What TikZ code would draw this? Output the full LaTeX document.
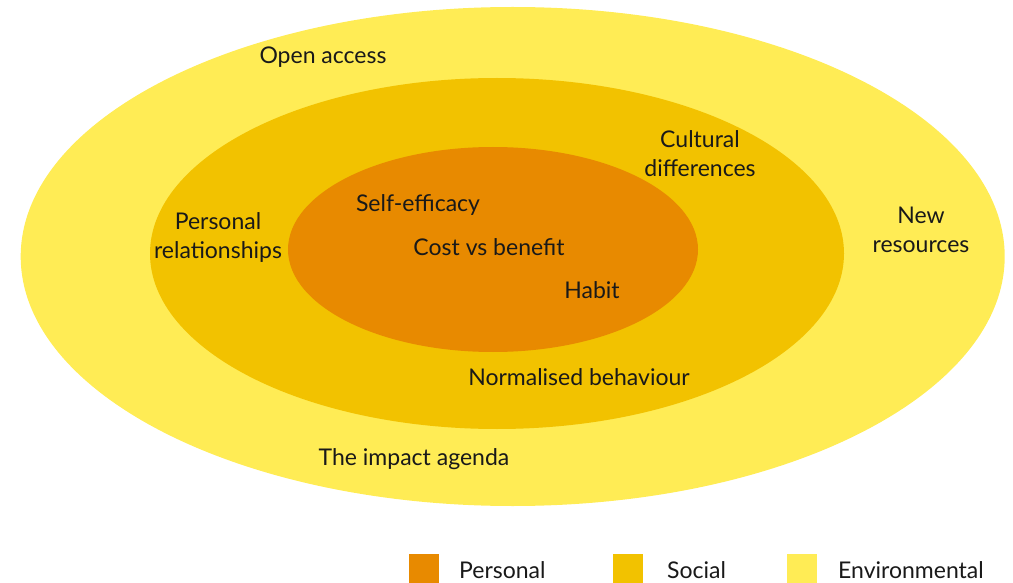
\documentclass[tikz,border=0pt]{standalone}
\usepackage{fontspec}
\setmainfont{Lato}
\definecolor{personal}{HTML}{E88A00}
\definecolor{social}{HTML}{F2C200}
\definecolor{environ}{HTML}{FFEC55}
\begin{document}
\begin{tikzpicture}[x=1pt,y=-1pt,
  lbl/.style={font=\fontsize{23}{29}\selectfont, text=black!90, align=center, inner sep=0pt},
  swatch/.style={minimum width=30pt, minimum height=29pt, inner sep=0pt, anchor=north west},
  legendtext/.style={font=\fontsize{23}{29}\selectfont, text=black!90, anchor=base west, inner sep=0pt, text depth=0pt}]
  \useasboundingbox (0,0) rectangle (1013,583);
  \clip (0,0) rectangle (1013,583);
  % nested ellipses: environmental, social, personal
  \fill[environ] (512.7,256.5) ellipse [x radius=492, y radius=249.5];
  \fill[social] (497,253.5) ellipse [x radius=347, y radius=175.5];
  \fill[personal] (493,249.5) ellipse [x radius=205, y radius=102.5];
  % labels
  \node[lbl] (open) at (323,57) {Open access};
  \node[lbl] (cult) at (700,154) {Cultural\\differences};
  \node[lbl] (pers) at (218,238) {Personal\\relationships};
  \node[lbl] (newr) at (921,230) {New\\resources};
  \node[lbl] (self) at (418,205) {Self-efficacy};
  \node[lbl] (cost) at (489,247) {Cost vs benefit};
  \node[lbl] (habit) at (592,290) {Habit};
  \node[lbl] (norm) at (579,377) {Normalised behaviour};
  \node[lbl] (impact) at (414,459) {The impact agenda};
  % legend
  \node[swatch, fill=personal] (kp) at (409,554) {};
  \node[swatch, fill=social] (ks) at (613,554) {};
  \node[swatch, fill=environ] (ke) at (787,554) {};
  \node[legendtext] (tp) at (459,578) {Personal};
  \node[legendtext] (ts) at (667,578) {Social};
  \node[legendtext] (te) at (838,578) {Environmental};
\end{tikzpicture}
\end{document}
